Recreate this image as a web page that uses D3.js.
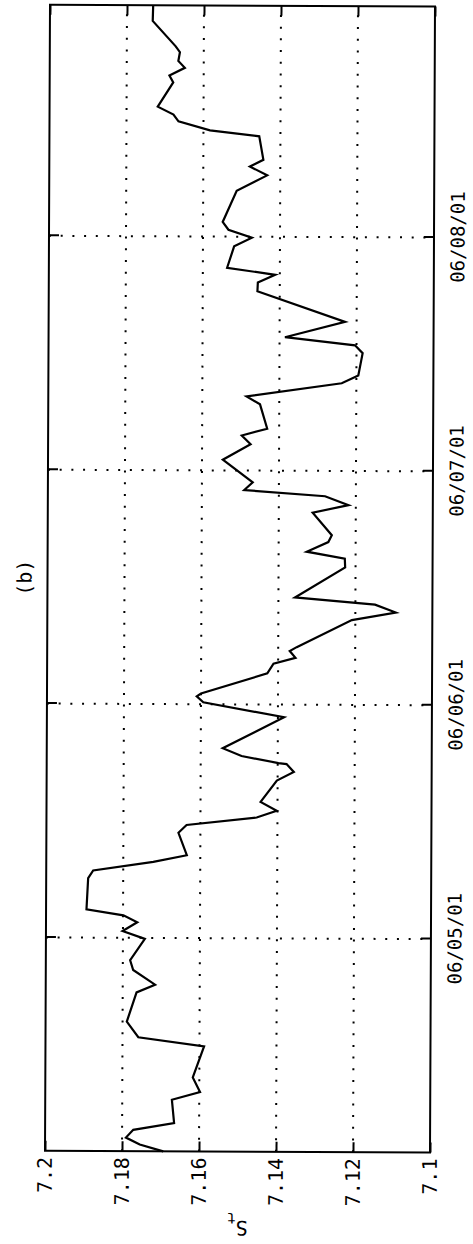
<!DOCTYPE html>
<html>
<head>
<meta charset="utf-8">
<script src="https://cdn.jsdelivr.net/npm/d3@7"></script>
<style>
  html, body { margin: 0; padding: 0; background: #fff; }
  svg { display: block; }
</style>
</head>
<body>
<svg id="chart" width="473" height="1244"></svg>
<script>
// Readings of S_t; time is given in hours counted from 06/04/01 00:00
const hours = [
  2.1, 2.8, 3.5, 4.3, 5.0, 7.4, 8.2, 9.7, 12.9, 13.8,
  15.4, 18.4, 19.2, 20.7, 21.7, 23.9, 24.7, 25.6, 26.3, 26.9,
  30.1, 30.9, 31.8, 32.5, 34.8, 35.6, 36.4, 37.1, 38.0, 40.2,
  41.1, 41.9, 42.0, 42.7, 43.5, 46.7, 48.2, 48.8, 49.1, 51.2,
  52.2, 52.8, 53.5, 53.9, 56.7, 57.5, 58.3, 59.0, 62.1, 63.0,
  63.7, 64.7, 65.4, 67.7, 68.5, 69.4, 70.0, 70.8, 73.1, 74.7,
  75.6, 76.3, 78.8, 79.6, 81.0, 81.8, 84.1, 84.9, 85.7, 87.3,
  90.4, 91.3, 92.1, 92.8, 95.0, 95.9, 96.7, 97.5, 100.7, 102.3,
  103.2, 103.9, 106.3, 106.9, 107.8, 108.5, 109.3, 111.8, 112.5, 113.3,
  114.0, 114.9, 115.5, 118.1, 119.7
];
const values = [
  7.1693, 7.1754, 7.1790, 7.1771, 7.1665, 7.1671, 7.1598, 7.1617, 7.1588, 7.1759,
  7.1789, 7.1764, 7.1716, 7.1773, 7.1781, 7.1743, 7.1801, 7.1763, 7.1799, 7.1895,
  7.1891, 7.1878, 7.1722, 7.1635, 7.1657, 7.1636, 7.1454, 7.1402, 7.1444, 7.1402,
  7.1358, 7.1377, 7.1398, 7.1494, 7.1543, 7.1384, 7.1594, 7.1611, 7.1600, 7.1428,
  7.1412, 7.1355, 7.1370, 7.1352, 7.1209, 7.1095, 7.1149, 7.1357, 7.1227, 7.1228,
  7.1327, 7.1271, 7.1262, 7.1312, 7.1219, 7.1280, 7.1490, 7.1468, 7.1546, 7.1474,
  7.1497, 7.1431, 7.1450, 7.1485, 7.1238, 7.1195, 7.1184, 7.1204, 7.1386, 7.1230,
  7.1458, 7.1457, 7.1412, 7.1537, 7.1519, 7.1473, 7.1534, 7.1549, 7.1513, 7.1434,
  7.1479, 7.1444, 7.1455, 7.1583, 7.1665, 7.1678, 7.1719, 7.1679, 7.1689, 7.1649,
  7.1666, 7.1662, 7.1673, 7.1733, 7.1732
];
const dateTicks = ["2001-06-05", "2001-06-06", "2001-06-07", "2001-06-08"];
const valueTicks = [7.2, 7.18, 7.16, 7.14, 7.12, 7.1];
const valueTickLabels = ["7.2", "7.18", "7.16", "7.14", "7.12", "7.1"];
const titleText = "(b)";

const pageW = 473, pageH = 1244;
const FONT = "'DejaVu Sans Mono', 'Liberation Mono', monospace";

const start = new Date(2001, 5, 4);
const parseDay = d3.timeParse("%Y-%m-%d");
const data = hours.map((h, i) => ({ t: d3.timeMinute.offset(start, Math.round(h * 60)), v: values[i] }));
const ticks = dateTicks.map(parseDay);

// The plot is laid out landscape (time along u, value along v)
// and then turned a quarter turn counter-clockwise onto the page.
const plot = { left: 92.3, right: 1238.3, top: 45, bottom: 430 };

const x = d3.scaleTime()
  .domain(d3.extent(data, d => d.t))
  .range([plot.left, plot.right]);
const y = d3.scaleLinear()
  .domain([7.1, 7.2])
  .range([plot.bottom, plot.top]);

const svg = d3.select("#chart");
svg.append("rect").attr("width", pageW).attr("height", pageH).attr("fill", "#fff");

// slight tilt of the printed page
const page = svg.append("g").attr("transform", "rotate(0.25,240,1152)");
const g = page.append("g").attr("transform", `translate(0,${pageH}) rotate(-90)`);

// dotted grid
const grid = g.append("g")
  .attr("stroke", "#000")
  .attr("stroke-width", 2)
  .attr("stroke-dasharray", "2 9.7")
  .attr("fill", "none");
grid.selectAll("line.gx").data(ticks).join("line")
  .attr("class", "gx")
  .attr("x1", d => x(d)).attr("x2", d => x(d))
  .attr("y1", plot.top).attr("y2", plot.bottom);
grid.selectAll("line.gy").data(valueTicks.slice(1, -1)).join("line")
  .attr("class", "gy")
  .attr("x1", plot.left).attr("x2", plot.right)
  .attr("y1", d => y(d)).attr("y2", d => y(d));

// axes with inward ticks on all four sides
const fmtDate = d3.timeFormat("%m/%d/%y");
const labelOf = d => valueTickLabels[valueTicks.indexOf(d)];

function styleAxis(sel, size) {
  sel.select(".domain").remove();
  sel.selectAll(".tick line").attr("stroke", "#000").attr("stroke-width", 2);
  sel.selectAll(".tick text").attr("fill", "#000");
  sel.attr("font-family", FONT).attr("font-size", size);
}

g.append("g").attr("transform", `translate(0,${plot.bottom})`)
  .call(d3.axisBottom(x).tickValues(ticks).tickFormat(fmtDate).tickSize(-10).tickPadding(17))
  .call(s => styleAxis(s, 19));
g.append("g").attr("transform", `translate(0,${plot.top})`)
  .call(d3.axisTop(x).tickValues(ticks).tickFormat("").tickSize(-10))
  .call(s => styleAxis(s, 19));
g.append("g").attr("transform", `translate(${plot.left},0)`)
  .call(d3.axisLeft(y).tickValues(valueTicks).tickFormat(labelOf).tickSize(-10).tickPadding(6))
  .call(s => styleAxis(s, 20));
g.append("g").attr("transform", `translate(${plot.right},0)`)
  .call(d3.axisRight(y).tickValues(valueTicks).tickFormat("").tickSize(-10))
  .call(s => styleAxis(s, 20));

// frame
g.append("rect")
  .attr("x", plot.left).attr("y", plot.top)
  .attr("width", plot.right - plot.left).attr("height", plot.bottom - plot.top)
  .attr("fill", "none").attr("stroke", "#000").attr("stroke-width", 2);

// series
const line = d3.line().x(d => x(d.t)).y(d => y(d.v));
g.append("path")
  .datum(data)
  .attr("d", line)
  .attr("fill", "none")
  .attr("stroke", "#000")
  .attr("stroke-width", 2.2)
  .attr("stroke-linejoin", "miter")
  .attr("stroke-miterlimit", 4);

// title
g.append("text")
  .attr("x", (plot.left + plot.right) / 2)
  .attr("y", 29)
  .attr("text-anchor", "middle")
  .attr("font-family", FONT)
  .attr("font-size", 20)
  .text(titleText);

// value-axis label S_t
const yl = g.append("text")
  .attr("transform", `translate(23,${(plot.top + plot.bottom) / 2}) rotate(-90)`)
  .attr("text-anchor", "middle")
  .attr("font-family", FONT)
  .attr("font-size", 20);
yl.append("tspan").text("S");
yl.append("tspan").attr("font-size", 15).attr("dy", 8).text("t");
</script>
</body>
</html>
